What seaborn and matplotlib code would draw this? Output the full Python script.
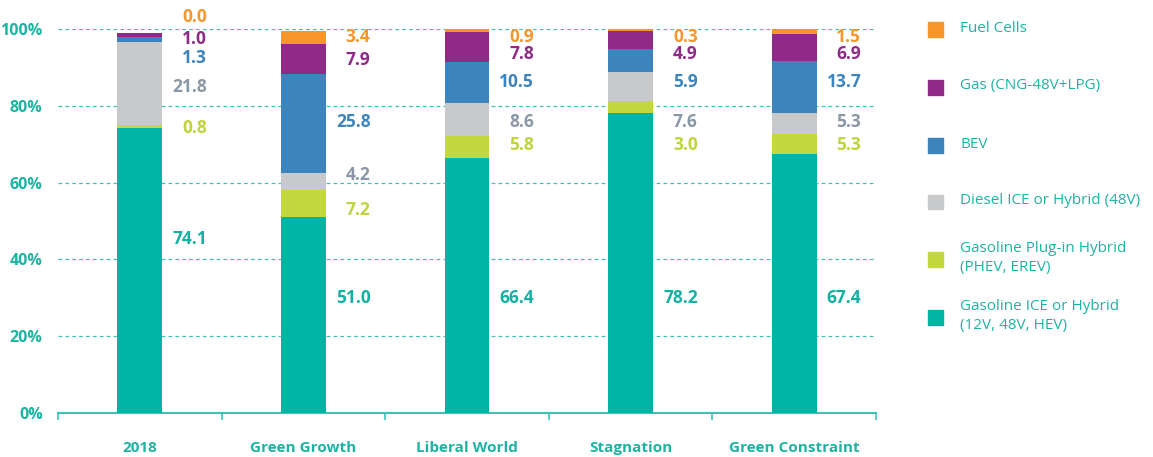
import numpy as np
import pandas as pd
import matplotlib
matplotlib.use("Agg")
import matplotlib.pyplot as plt
from matplotlib.patches import Rectangle
import seaborn as sns

# Powertrain mix of new cars per scenario (% of sales)
scenarios = ["2018", "Green Growth", "Liberal World", "Stagnation", "Green Constraint"]
gasoline_ice = [74.1, 51.0, 66.4, 78.2, 67.4]
gasoline_phev = [0.8, 7.2, 5.8, 3.0, 5.3]
diesel = [21.8, 4.2, 8.6, 7.6, 5.3]
bev = [1.3, 25.8, 10.5, 5.9, 13.7]
gas = [1.0, 7.9, 7.8, 4.9, 6.9]
fuel_cells = [0.0, 3.4, 0.9, 0.3, 1.5]

series_names = [
    "Gasoline ICE or Hybrid\n(12V, 48V, HEV)",
    "Gasoline Plug-in Hybrid\n(PHEV, EREV)",
    "Diesel ICE or Hybrid (48V)",
    "BEV",
    "Gas (CNG-48V+LPG)",
    "Fuel Cells",
]
series_values = [gasoline_ice, gasoline_phev, diesel, bev, gas, fuel_cells]
bar_colors = ["#00B4A4", "#C3D73F", "#C8C9CB", "#3D84BC", "#8F2B87", "#F7962B"]
label_colors = ["#14B0A1", "#BED33C", "#8A97A6", "#3D84BC", "#8F2B87", "#F7962B"]

# Vertical placement of the value labels (in % units) for each series / scenario
label_y = [
    [45.3, 29.9, 29.9, 29.9, 29.9],
    [74.2, 52.9, 69.8, 69.8, 69.8],
    [84.9, 62.0, 75.8, 75.8, 75.8],
    [92.4, 75.8, 86.2, 86.2, 86.2],
    [97.4, 91.9, 93.5, 93.5, 93.5],
    [103.1, 97.9, 97.9, 97.9, 97.9],
]

teal_text = "#1DB3A3"
grid_color = "#3CC3B5"

sns.set_theme(style="white")
plt.rcParams["font.family"] = ["Open Sans", "DejaVu Sans"]

W, H = 1153, 457
fig = plt.figure(figsize=(W / 100, H / 100), dpi=100)
ax = fig.add_axes([58 / W, (H - 413) / H, (876 - 58) / W, (413 - 29) / H])

# Stacked bars: draw cumulative totals from the top layer down
df = pd.DataFrame({"scenario": scenarios})
cum = np.cumsum(np.array(series_values), axis=0)
for i in range(len(series_values) - 1, -1, -1):
    df["total"] = cum[i]
    sns.barplot(data=df, x="scenario", y="total", order=scenarios,
                color=bar_colors[i], saturation=1, width=0.275,
                linewidth=0, ax=ax, zorder=3)

# Value labels to the right of each bar
for i, vals in enumerate(series_values):
    for j, v in enumerate(vals):
        ax.text(j + 0.41, label_y[i][j], f"{v:.1f}", ha="right", va="center",
                fontsize=12.5, fontweight="bold", color=label_colors[i],
                clip_on=False, zorder=5)

ax.set_xlim(-0.5, len(scenarios) - 0.5)
ax.set_ylim(0, 100)
ax.set_xlabel("")
ax.set_ylabel("")

yt = [0, 20, 40, 60, 80, 100]
ax.set_yticks(yt)
ax.set_yticklabels([f"{t}%" for t in yt])
ax.tick_params(axis="y", length=0, pad=11, labelsize=11.5, labelcolor=teal_text)
for lab in ax.get_yticklabels():
    lab.set_fontweight("bold")

for t in yt[1:]:
    ax.axhline(t, color=grid_color, lw=0.9, ls=(0, (3, 2.5)), zorder=1)

# Category axis: labels centred, tick marks on category boundaries
ax.set_xticks(range(len(scenarios)))
ax.set_xticklabels(scenarios)
ax.tick_params(axis="x", length=0, pad=20, labelsize=11, labelcolor=teal_text)
for lab in ax.get_xticklabels():
    lab.set_fontweight("bold")
ax.set_xticks(np.arange(-0.5, len(scenarios)), minor=True)
ax.tick_params(axis="x", which="minor", length=5, width=1.2, color=grid_color,
               direction="out", bottom=True)

for side in ["left", "right", "top"]:
    ax.spines[side].set_visible(False)
ax.spines["bottom"].set_color(grid_color)
ax.spines["bottom"].set_linewidth(1.5)

# Legend: colour squares with labels, top to bottom
legend_rows = [29, 87, 145, 202, 259, 317]
for k, idx in enumerate(range(len(series_names) - 1, -1, -1)):
    yc = legend_rows[k]
    fig.patches.append(Rectangle((928 / W, (H - yc - 7.5) / H), 15 / W, 15 / H,
                                 transform=fig.transFigure, color=bar_colors[idx],
                                 figure=fig))
    fig.text(960 / W, (H - yc + 1) / H, series_names[idx], ha="left", va="center",
             fontsize=11, color=teal_text, linespacing=1.35)

fig.savefig("out.png", dpi=100, facecolor="white")
